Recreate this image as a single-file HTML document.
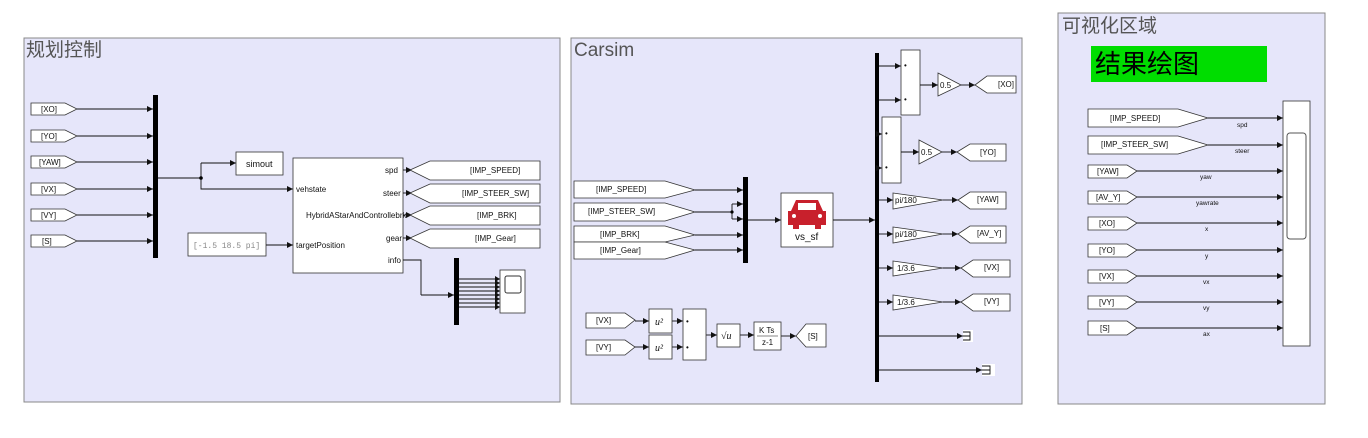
<!DOCTYPE html>
<html><head><meta charset="utf-8"><style>
body{margin:0;background:#fff;width:1368px;height:438px;overflow:hidden}
svg{display:block}
text{font-family:"Liberation Sans","Noto Sans CJK SC",sans-serif;font-size:8px;fill:#111}
.t{fill:#fff;stroke:#333;stroke-width:0.8}
.l{stroke:#111;stroke-width:0.9;fill:none}
.p{fill:#e6e6fa;stroke:#888;stroke-width:1}
</style></head><body>
<svg width="1368" height="438" viewBox="0 0 1368 438">
<defs><marker id="a" markerWidth="6" markerHeight="6" refX="6" refY="3" orient="auto" markerUnits="userSpaceOnUse"><path d="M0,0 L6,3 L0,6z" fill="#111"/></marker></defs>
<rect class="p" x="24" y="38" width="536" height="364"/>
<rect class="p" x="571" y="38" width="451" height="366"/>
<rect class="p" x="1058" y="13" width="267" height="391"/>
<text x="26" y="56" style="font-size:19px;fill:#555">规划控制</text>
<text x="574" y="56" style="font-size:19px;fill:#555">Carsim</text>
<text x="1062" y="32" style="font-size:19px;fill:#555">可视化区域</text>
<rect x="1091" y="46" width="176" height="36" fill="#00dd00"/>
<text x="1095" y="73" style="font-size:26px;fill:#000">结果绘图</text>

<!-- LEFT -->
<g>
<polygon class="t" points="31,103 65,103 77,109 65,115 31,115"/><text x="41" y="112">[XO]</text>
<polygon class="t" points="31,130 65,130 77,136 65,142 31,142"/><text x="41" y="139">[YO]</text>
<polygon class="t" points="31,156 65,156 77,162 65,168 31,168"/><text x="39" y="165">[YAW]</text>
<polygon class="t" points="31,183 65,183 77,189 65,195 31,195"/><text x="41" y="192">[VX]</text>
<polygon class="t" points="31,209 65,209 77,215 65,221 31,221"/><text x="41" y="218">[VY]</text>
<polygon class="t" points="31,235 65,235 77,241 65,247 31,247"/><text x="42" y="244">[S]</text>
<path class="l" marker-end="url(#a)" d="M77,109H153"/>
<path class="l" marker-end="url(#a)" d="M77,136H153"/>
<path class="l" marker-end="url(#a)" d="M77,162H153"/>
<path class="l" marker-end="url(#a)" d="M77,189H153"/>
<path class="l" marker-end="url(#a)" d="M77,215H153"/>
<path class="l" marker-end="url(#a)" d="M77,241H153"/>
<rect x="153" y="95" width="5" height="163" fill="#000"/>
<path class="l" d="M158,178H201V163"/>
<path class="l" marker-end="url(#a)" d="M201,163H236"/>
<path class="l" marker-end="url(#a)" d="M201,178V189H293"/>
<circle cx="201" cy="178" r="1.8" fill="#000"/>
<rect class="t" x="236" y="152" width="47" height="23"/><text x="246" y="167" style="font-size:9px">simout</text>
<rect class="t" x="293" y="158" width="110" height="115"/>
<text x="296" y="192">vehstate</text><text x="296" y="248">targetPosition</text>
<text x="385" y="173">spd</text><text x="383" y="196">steer</text>
<text x="306" y="218">HybridAStarAndControllebrk</text>
<text x="386" y="241">gear</text><text x="388" y="263">info</text>
<rect class="t" x="188" y="233" width="78" height="23"/><text x="193" y="248" style="font-family:'Liberation Mono',monospace;fill:#888">[-1.5 18.5   pi]</text>
<path class="l" marker-end="url(#a)" d="M266,245H293"/>
<path class="l" marker-end="url(#a)" d="M403,170H412"/>
<path class="l" marker-end="url(#a)" d="M403,193H412"/>
<path class="l" marker-end="url(#a)" d="M403,215H412"/>
<path class="l" marker-end="url(#a)" d="M403,238H412"/>
<polygon class="t" points="410,170 430,161 540,161 540,180 430,180"/><text x="470" y="173">[IMP_SPEED]</text>
<polygon class="t" points="410,193 430,184 540,184 540,203 430,203"/><text x="462" y="196">[IMP_STEER_SW]</text>
<polygon class="t" points="410,215 430,206 540,206 540,225 430,225"/><text x="477" y="218">[IMP_BRK]</text>
<polygon class="t" points="410,238 430,229 540,229 540,248 430,248"/><text x="475" y="241">[IMP_Gear]</text>
<path class="l" d="M403,260H421V295"/>
<path class="l" marker-end="url(#a)" d="M421,295H454"/>
<rect x="454" y="258" width="5" height="67" fill="#000"/>
<path class="l" d="M459,279H500M459,283H500M459,287H500M459,291H500M459,295H500M459,299H500M459,303H500M459,307H500"/>
<path d="M495,276 L500,279 L495,282z M495,280 L500,283 L495,286z M495,284 L500,287 L495,290z M495,288 L500,291 L495,294z M495,292 L500,295 L495,298z M495,296 L500,299 L495,302z M495,300 L500,303 L495,306z M495,304 L500,307 L495,310z" fill="#111"/>
<rect class="t" x="500" y="270" width="25" height="43"/>
<rect x="505" y="276" width="16" height="17" rx="2" fill="#fff" stroke="#333"/>
</g>

<!-- CARSIM -->
<g>
<polygon class="t" points="574,181 665,181 695,190 665,198 574,198"/><text x="596" y="192">[IMP_SPEED]</text>
<polygon class="t" points="574,203 665,203 695,212 665,221 574,221"/><text x="588" y="214">[IMP_STEER_SW]</text>
<polygon class="t" points="574,226 665,226 695,235 665,242 574,242"/><text x="600" y="237">[IMP_BRK]</text>
<polygon class="t" points="574,242 665,242 695,250 665,259 574,259"/><text x="600" y="253">[IMP_Gear]</text>
<path class="l" marker-end="url(#a)" d="M695,190H743"/>
<path class="l" marker-end="url(#a)" d="M695,235H743"/>
<path class="l" marker-end="url(#a)" d="M695,250H743"/>
<path class="l" d="M695,212H732V204M732,212V219"/>
<path class="l" marker-end="url(#a)" d="M732,204H743"/>
<path class="l" marker-end="url(#a)" d="M732,219H743"/>
<circle cx="732" cy="212" r="1.6" fill="#000"/>
<rect x="743" y="177" width="5" height="86" fill="#000"/>
<path class="l" marker-end="url(#a)" d="M748,220H781"/>
<rect class="t" x="781" y="193" width="52" height="54"/>
<path fill="#c8202c" d="M791,211 L796,200 H818 L823,211 H826 V225 H821 V229 H815 V225 H799 V229 H793 V225 H788 V211z"/>
<rect x="798" y="203" width="18" height="7" fill="#fff"/>
<circle cx="794" cy="216" r="2" fill="#fff"/><circle cx="820" cy="216" r="2" fill="#fff"/>
<text x="795" y="240" style="font-size:10px">vs_sf</text>
<path class="l" marker-end="url(#a)" d="M833,220H875"/>
<rect x="875" y="53" width="4" height="329" fill="#000"/>
<path class="l" marker-end="url(#a)" d="M879,66H901"/>
<path class="l" marker-end="url(#a)" d="M879,100H901"/>
<path class="l" marker-end="url(#a)" d="M879,134H882"/>
<path class="l" marker-end="url(#a)" d="M879,168H882"/>
<path class="l" marker-end="url(#a)" d="M879,200H893"/>
<path class="l" marker-end="url(#a)" d="M879,234H893"/>
<path class="l" marker-end="url(#a)" d="M879,268H893"/>
<path class="l" marker-end="url(#a)" d="M879,302H893"/>
<rect class="t" x="901" y="50" width="19" height="65"/><text x="904" y="68">•</text><text x="904" y="102">•</text>
<rect class="t" x="882" y="117" width="19" height="66"/><text x="885" y="136">•</text><text x="885" y="170">•</text>
<path class="l" marker-end="url(#a)" d="M920,85H938"/>
<path class="l" marker-end="url(#a)" d="M901,152H919"/>
<polygon class="t" points="938,73 961,85 938,96"/><text x="940" y="88">0.5</text>
<polygon class="t" points="919,140 942,152 919,164"/><text x="921" y="155">0.5</text>
<path class="l" marker-end="url(#a)" d="M961,85H975"/>
<path class="l" marker-end="url(#a)" d="M942,152H957"/>
<path class="l" marker-end="url(#a)" d="M943,200H958"/>
<path class="l" marker-end="url(#a)" d="M943,234H958"/>
<path class="l" marker-end="url(#a)" d="M943,268H961"/>
<path class="l" marker-end="url(#a)" d="M943,302H961"/>
<polygon class="t" points="975,85 987,76 1016,76 1016,93 987,93"/><text x="998" y="87">[XO]</text>
<polygon class="t" points="957,152 970,144 1006,144 1006,161 970,161"/><text x="980" y="155">[YO]</text>
<polygon class="t" points="893,193 943,200 893,209"/><text x="895" y="203">pi/180</text>
<polygon class="t" points="893,227 943,234 893,243"/><text x="895" y="237">pi/180</text>
<polygon class="t" points="893,261 943,268 893,276"/><text x="897" y="271">1/3.6</text>
<polygon class="t" points="893,295 943,302 893,310"/><text x="897" y="305">1/3.6</text>
<polygon class="t" points="958,200 970,192 1006,192 1006,209 970,209"/><text x="977" y="202">[YAW]</text>
<polygon class="t" points="958,234 970,226 1006,226 1006,243 970,243"/><text x="977" y="236">[AV_Y]</text>
<polygon class="t" points="961,268 973,260 1010,260 1010,277 973,277"/><text x="984" y="270">[VX]</text>
<polygon class="t" points="961,302 973,294 1010,294 1010,311 973,311"/><text x="984" y="304">[VY]</text>
<path class="l" marker-end="url(#a)" d="M879,336H963"/>
<path class="l" marker-end="url(#a)" d="M879,370H982"/>
<rect x="963" y="330" width="10" height="12" fill="#fff"/><path class="l" d="M963,332H970V340H963M963,336H970"/>
<rect x="982" y="364" width="13" height="12" fill="#fff"/><path class="l" d="M982,366H990V374H982M982,370H990"/>
<polygon class="t" points="586,313 625,313 635,320 625,328 586,328"/><text x="596" y="323">[VX]</text>
<polygon class="t" points="586,340 625,340 635,347 625,355 586,355"/><text x="596" y="350">[VY]</text>
<path class="l" marker-end="url(#a)" d="M635,321H649"/>
<path class="l" marker-end="url(#a)" d="M635,347H649"/>
<path class="l" marker-end="url(#a)" d="M672,321H683"/>
<path class="l" marker-end="url(#a)" d="M672,347H683"/>
<path class="l" marker-end="url(#a)" d="M706,335H717"/>
<path class="l" marker-end="url(#a)" d="M740,335H754"/>
<path class="l" marker-end="url(#a)" d="M781,336H796"/>
<rect class="t" x="649" y="309" width="23" height="24"/><text x="655" y="325" style="font-size:10px;font-style:italic;font-family:'Liberation Serif',serif">u²</text>
<rect class="t" x="649" y="335" width="23" height="24"/><text x="655" y="351" style="font-size:10px;font-style:italic;font-family:'Liberation Serif',serif">u²</text>
<rect class="t" x="683" y="309" width="23" height="51"/><text x="686" y="324">•</text><text x="686" y="350">•</text>
<rect class="t" x="717" y="324" width="23" height="23"/><text x="721" y="339" style="font-size:10px;font-family:'Liberation Serif',serif">√<tspan font-style="italic">u</tspan></text>
<rect class="t" x="754" y="322" width="27" height="28"/><text x="759" y="333">K Ts</text><path d="M757,336H778" stroke="#111" stroke-width=".6"/><text x="762" y="345">z-1</text>
<polygon class="t" points="796,336 806,324 826,324 826,347 806,347"/><text x="808" y="339">[S]</text>
</g>

<!-- RIGHT -->
<g>
<polygon class="t" points="1088,109 1178,109 1208,118 1178,127 1088,127"/><text x="1110" y="121">[IMP_SPEED]</text>
<polygon class="t" points="1088,136 1178,136 1208,145 1178,154 1088,154"/><text x="1101" y="147">[IMP_STEER_SW]</text>
<polygon class="t" points="1088,165 1127,165 1137,171 1127,178 1088,178"/><text x="1097" y="174">[YAW]</text>
<polygon class="t" points="1088,191 1127,191 1137,197 1127,204 1088,204"/><text x="1096" y="200">[AV_Y]</text>
<polygon class="t" points="1088,217 1127,217 1137,223 1127,230 1088,230"/><text x="1099" y="226">[XO]</text>
<polygon class="t" points="1088,244 1127,244 1137,250 1127,257 1088,257"/><text x="1099" y="253">[YO]</text>
<polygon class="t" points="1088,270 1127,270 1137,276 1127,283 1088,283"/><text x="1099" y="279">[VX]</text>
<polygon class="t" points="1088,296 1127,296 1137,302 1127,309 1088,309"/><text x="1099" y="305">[VY]</text>
<polygon class="t" points="1088,321 1127,321 1137,328 1127,335 1088,335"/><text x="1100" y="331">[S]</text>
<path class="l" marker-end="url(#a)" d="M1208,118H1283"/>
<path class="l" marker-end="url(#a)" d="M1208,145H1283"/>
<path class="l" marker-end="url(#a)" d="M1137,171H1283"/>
<path class="l" marker-end="url(#a)" d="M1137,197H1283"/>
<path class="l" marker-end="url(#a)" d="M1137,223H1283"/>
<path class="l" marker-end="url(#a)" d="M1137,250H1283"/>
<path class="l" marker-end="url(#a)" d="M1137,276H1283"/>
<path class="l" marker-end="url(#a)" d="M1137,302H1283"/>
<path class="l" marker-end="url(#a)" d="M1137,328H1283"/>
<text x="1237" y="127" style="font-size:6.5px">spd</text><text x="1235" y="153" style="font-size:6.5px">steer</text><text x="1200" y="179" style="font-size:6.5px">yaw</text><text x="1196" y="205" style="font-size:6.5px">yawrate</text><text x="1205" y="231" style="font-size:6.5px">x</text><text x="1205" y="258" style="font-size:6.5px">y</text><text x="1203" y="284" style="font-size:6.5px">vx</text><text x="1203" y="310" style="font-size:6.5px">vy</text><text x="1203" y="336" style="font-size:6.5px">ax</text>
<rect class="t" x="1283" y="101" width="27" height="245"/>
<rect x="1287" y="133" width="19" height="106" rx="3" fill="#fff" stroke="#555"/>
</g>
</svg>
</body></html>
